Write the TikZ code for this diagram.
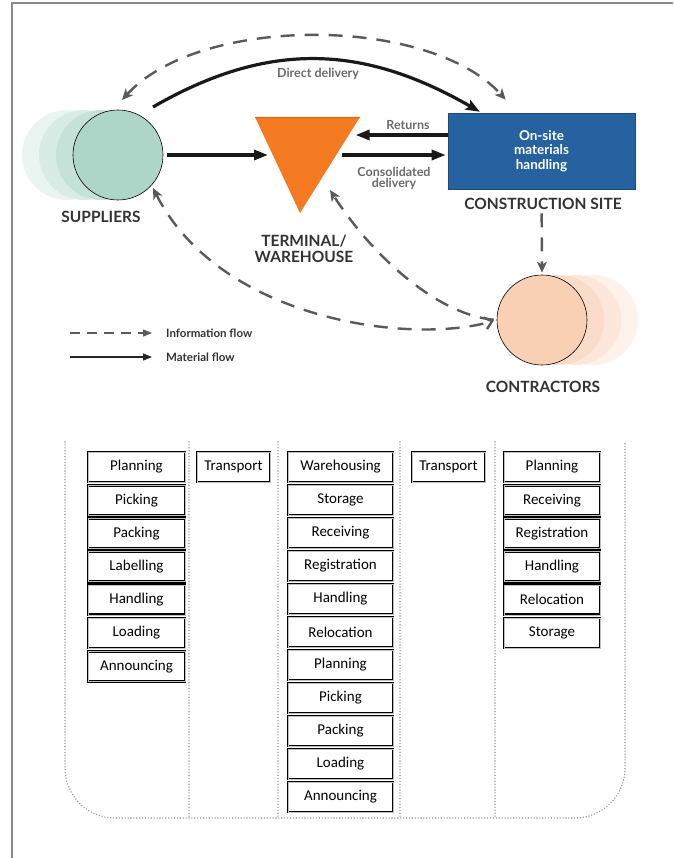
\documentclass[tikz,border=0pt]{standalone}
\usepackage{fontspec}
\setmainfont{Lato}
\newfontfamily\boxfont{Carlito}
\usetikzlibrary{arrows.meta,calc}
\definecolor{framec}{HTML}{8A8A8A}
\definecolor{supc}{HTML}{ADD6C8}
\definecolor{supg1}{HTML}{C4E2D7}
\definecolor{supg2}{HTML}{D8ECE5}
\definecolor{supg3}{HTML}{EAF5F1}
\definecolor{conc}{HTML}{FAD0B5}
\definecolor{cong1}{HTML}{FBDCC8}
\definecolor{cong2}{HTML}{FDE7DA}
\definecolor{cong3}{HTML}{FEF2EB}
\definecolor{orangec}{HTML}{F37A20}
\definecolor{bluec}{HTML}{25629F}
\definecolor{infoc}{HTML}{5A5A5A}
\definecolor{labc}{HTML}{333333}
\definecolor{elabc}{HTML}{6A6A6A}
\definecolor{dotc}{HTML}{9A9A9A}
\tikzset{
  mat/.style={line width=3.2pt, draw=black!90, -{Triangle[length=14pt,width=10pt]}},
  info/.style={line width=2.4pt, draw=infoc, dash pattern=on 14pt off 10pt},
  lab/.style={font=\bfseries\fontsize{15.5}{17}\selectfont, text=labc, inner sep=1pt},
  elab/.style={font=\bfseries\fontsize{12.5}{13.5}\selectfont, text=elabc, inner sep=1pt},
  leg/.style={font=\bfseries\fontsize{11.5}{13}\selectfont, text=labc, inner sep=1pt, anchor=west},
  bx/.style={draw=black, line width=1.1pt, double=gray!50, double distance=0.6pt, minimum height=30pt, inner sep=0pt, font=\boxfont\fontsize{15}{17}\selectfont, fill=white},
  dots/.style={draw=dotc, line width=1.6pt, line cap=round, dash pattern=on 0pt off 2.9pt}
}
\begin{document}
\begin{tikzpicture}[x=1pt,y=-1pt]
\useasboundingbox (0,0) rectangle (673,858);
% frame
\draw[framec, line width=1.5pt] (12,858) -- (12,3) -- (673,3);

% suppliers
\fill[supg3] (67,155) circle (45pt);
\fill[supg2] (84,155) circle (45pt);
\fill[supg1] (101,155) circle (45pt);
\node[circle, draw=black, line width=0.6pt, fill=supc, minimum size=90pt, inner sep=0pt] (sup) at (118,155) {};
\node[lab] (supl) at (101,217) {SUPPLIERS};

% contractors
\fill[cong3] (593,320) circle (45pt);
\fill[cong2] (576,320) circle (45pt);
\fill[cong1] (559,320) circle (45pt);
\node[circle, draw=black, line width=0.6pt, fill=conc, minimum size=90pt, inner sep=0pt] (con) at (542,320) {};
\node[lab] (conl) at (543,387) {CONTRACTORS};

% terminal triangle
\coordinate (tA) at (255,117);
\coordinate (tB) at (360,117);
\coordinate (tC) at (300,213);
\fill[orangec] (tA) -- (tB) -- (tC) -- cycle;
\draw[orangec!85!black, line width=0.4pt] (tA) -- (tB);
\node[lab, align=center] (terml) at (304,249) {TERMINAL/\\[-1pt]WAREHOUSE};
\coordinate (tL) at ($(tA)!0.4!(tC)$);
\coordinate (tR1) at ($(tB)!0.19!(tC)$);
\coordinate (tR2) at ($(tB)!0.396!(tC)$);

% construction site
\node[draw=bluec!75!black, line width=0.6pt, fill=bluec, minimum width=187pt, minimum height=76pt, inner sep=0pt,
      text=white, font=\bfseries\fontsize{13.5}{14.5}\selectfont, align=center] (site) at (541.5,151)
      {On-site\\materials\\handling};
\node[lab] (sitel) at (543,204) {CONSTRUCTION SITE};

% material flows
\draw[mat, shorten <=4pt, shorten >=5pt] (sup.east) -- (sup.east -| tL);
\draw[mat, shorten >=7pt] ([yshift=16pt]site.west) -- ([yshift=16pt]site.west -| tR1);
\draw[mat, shorten <=6pt, shorten >=2pt] ([yshift=-4pt]site.west -| tR2) -- ([yshift=-4pt]site.west);
\draw[line width=3.2pt, draw=black!90, -{Stealth[length=14pt,width=11pt,inset=3pt]}]
  ($(sup.center)+(35,-48)$) .. controls (269,40) and (364,45) .. ($(site.north west)+(32,-1)$);
\node[elab] (ddl) at (318,74) {Direct delivery};
\node[elab] (retl) at (408,125) {Returns};
\node[elab, align=center] (cdl) at (394,178.5) {Consolidated\\[-2pt]delivery};

% information flows
\draw[info, {Stealth[length=11pt,width=10pt,inset=3pt]}-{Stealth[length=11pt,width=10pt,inset=3pt]}]
  ($(sup.center)+(4,-55)$) .. controls (199,15) and (429,15) .. ($(site.north west)+(58,-13)$);
\draw[info, shorten <=24pt, shorten >=2pt, -{Stealth[length=11pt,width=10pt,inset=3pt]}] (site.south) -- (con.north);
\draw[info, {Stealth[length=11pt,width=10pt,inset=3pt]}-{Straight Barb[length=7pt,width=12pt]}, shorten >=3pt]
  ($(sup.center)+(35,33)$) .. controls (220,320) and (410,345) .. (con.west);
\draw[info, shorten <=3pt, -{Stealth[length=11pt,width=10pt,inset=3pt]}]
  (con.west) .. controls (440,315) and (375,260) .. ($(tC)+(30,-23)$);

% legend
\node[leg] (legi) at (165,333) {Information flow};
\node[leg] (legm) at (165,357) {Material flow};
\coordinate (legi0) at (70,333);
\coordinate (legm0) at (70,357);
\draw[draw=infoc, line width=1.4pt, dash pattern=on 10pt off 7pt, shorten >=13pt, -{Triangle[length=9pt,width=7pt]}] (legi0) -- (legi.west);
\draw[draw=black!85, line width=1.4pt, shorten >=13pt, -{Triangle[length=9pt,width=7pt]}] (legm0) -- (legm.west);

% bottom table
\draw[dots] (65,442) -- (65,768) arc[start angle=180, end angle=270, radius=50pt] -- (575,818)
  arc[start angle=270, end angle=360, radius=50pt] -- (625,442);
\foreach \x in {189,278,400,495} \draw[dots] (\x,442) -- (\x,818);

\foreach \t [count=\i from 0] in {Planning,Picking,Packing,Labelling,Handling,Loading,Announcing}
  \node[bx, minimum width=97pt] (a\i) at (136.5,{467+33.2*\i}) {\t};
\node[bx, minimum width=73pt] (b0) at (233.5,467) {Transport};
\foreach \t [count=\i from 0] in {Warehousing,Storage,Receiving,Registration,Handling,Relocation,Planning,Picking,Packing,Loading,Announcing}
  \node[bx, minimum width=105pt] (c\i) at (340.5,{467+33*\i}) {\t};
\node[bx, minimum width=73pt] (d0) at (448.5,467) {Transport};
\foreach \t [count=\i from 0] in {Planning,Receiving,Registration,Handling,Relocation,Storage}
  \node[bx, minimum width=96pt] (e\i) at (552,{467+33.2*\i}) {\t};
\end{tikzpicture}
\end{document}
